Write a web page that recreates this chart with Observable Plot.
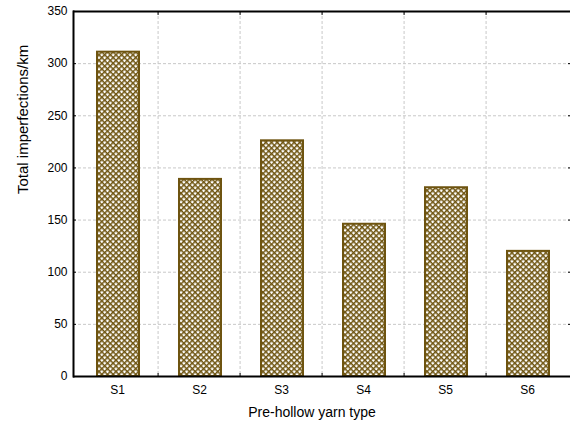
<!DOCTYPE html>
<html><head><meta charset="utf-8">
<script src="https://cdn.jsdelivr.net/npm/d3@7"></script>
<script src="https://cdn.jsdelivr.net/npm/@observablehq/plot@0.6"></script>
<style>
html,body{margin:0;padding:0;background:#fff;}
</style>
</head><body>
<div id="chart"></div>
<script>
const categories = ["S1","S2","S3","S4","S5","S6"];
const values = [311, 189, 226, 146, 181, 120];
const yTicks = [0, 50, 100, 150, 200, 250, 300, 350];
const xLabel = "Pre-hollow yarn type";
const yLabel = "Total imperfections/km";

const data = categories.map((c, i) => ({cat: c, v: values[i]}));

const W = 570, H = 423, ML = 73, MR = 0, MT = 11, MB = 47;
const step = (W - ML - MR) / categories.length;
const brown = "#6e5410";

const chart = Plot.plot({
  width: W, height: H,
  marginLeft: ML, marginRight: MR, marginTop: MT, marginBottom: MB,
  style: {fontFamily: "'Liberation Sans', Arial, sans-serif", fontSize: "12px", color: "#000", background: "#fff"},
  x: {domain: categories, padding: 0, label: null},
  y: {domain: [0, 350], label: null},
  marks: [
    // grid
    Plot.ruleY(yTicks.filter(t => t > 0 && t < 350), {stroke: "#c8c8c8", strokeDasharray: "3,2", strokeWidth: 1}),
    Plot.ruleX(categories.slice(1), {stroke: "#c8c8c8", strokeDasharray: "3,2", strokeWidth: 1, dx: -step / 2}),
    // bars
    Plot.barY(data, {x: "cat", y: "v", fill: "url(#hatch)", stroke: brown, strokeWidth: 2, insetLeft: 21, insetRight: 19}),
    // frame
    Plot.ruleY([0], {stroke: "#000", strokeWidth: 2}),
    Plot.ruleY([350], {stroke: "#000", strokeWidth: 2}),
    Plot.axisY(yTicks, {tickSize: 0, tickPadding: 6, fontSize: 12, label: null}),
    Plot.axisY(yTicks, {tickSize: -3, tickFormat: () => "", label: null}),
    Plot.axisY(yTicks, {anchor: "right", tickSize: -3, tickFormat: () => "", label: null}),
    Plot.axisX(categories, {tickSize: 0, tickPadding: 9, fontSize: 12, label: null}),
    Plot.axisX(categories.slice(1), {tickSize: -3, tickFormat: () => "", label: null, dx: -step / 2}),
    Plot.axisX(categories.slice(1), {anchor: "top", tickSize: -3, tickFormat: () => "", label: null, dx: -step / 2}),
    Plot.frame({anchor: "left", stroke: "#000", strokeWidth: 2}),
    Plot.text([xLabel], {frameAnchor: "bottom", dy: 40, fontSize: 14, text: d => d, dx: -10}),
    Plot.text([yLabel], {frameAnchor: "left", dx: -50, rotate: -90, fontSize: 15, text: d => d})
  ]
});

// hatch pattern
const svg = d3.select(chart);
const defs = svg.insert("defs", ":first-child");
const pat = defs.append("pattern")
  .attr("id", "hatch").attr("patternUnits", "userSpaceOnUse")
  .attr("width", 4).attr("height", 4)
  .attr("patternTransform", "rotate(45)");
pat.append("rect").attr("width", 4).attr("height", 4).attr("fill", "#fff");
pat.append("rect").attr("width", 4).attr("height", 1.5).attr("fill", brown);
pat.append("rect").attr("width", 1.5).attr("height", 4).attr("fill", brown);

document.getElementById("chart").appendChild(chart);
</script>
</body></html>
